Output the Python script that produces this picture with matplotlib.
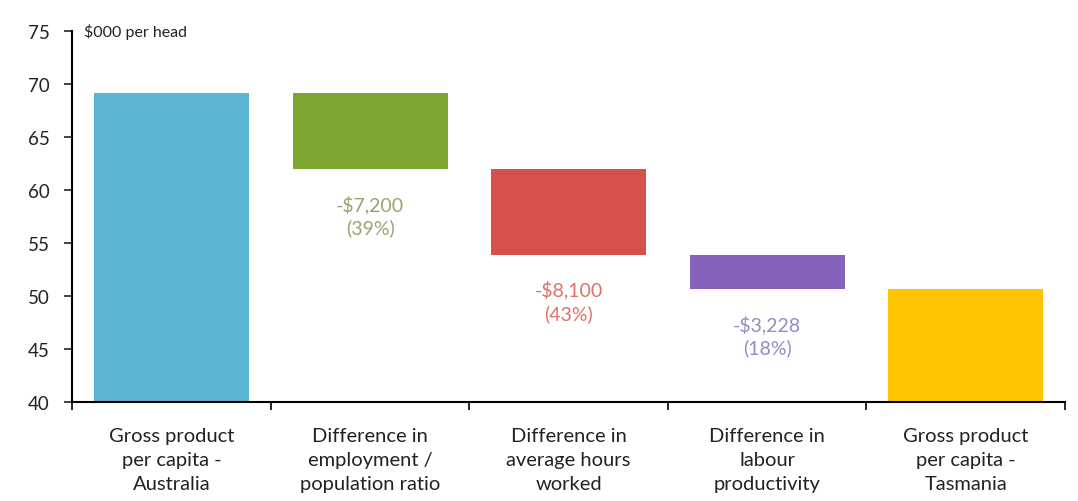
import matplotlib.pyplot as plt

# Data ($000 per head)
categories = [
    "Gross product\nper capita -\nAustralia",
    "Difference in\nemployment /\npopulation ratio",
    "Difference in\naverage hours\nworked",
    "Difference in\nlabour\nproductivity",
    "Gross product\nper capita -\nTasmania",
]
start_value = 69.2
changes = [-7.2, -8.1, -3.228]
change_labels = ["-$7,200\n(39%)", "-$8,100\n(43%)", "-$3,228\n(18%)"]
colors = ["#5ab4d2", "#7ba52e", "#d6504c", "#8562bc", "#ffc400"]
label_colors = ["#9aa36c", "#e0706a", "#9a88c8"]

plt.rcParams["font.family"] = ["Lato", "DejaVu Sans"]

fig = plt.figure(figsize=(10.78, 5.02), dpi=100)
ax = fig.add_axes([0.067, 0.197, 0.921, 0.739])

base = 40
x = list(range(len(categories)))

# first bar
ax.bar(x[0], start_value - base, bottom=base, width=0.78, color=colors[0])

# floating bars
level = start_value
for i, ch in enumerate(changes):
    new_level = level + ch
    ax.bar(x[i + 1], level - new_level, bottom=new_level, width=0.78,
           color=colors[i + 1])
    ax.text(x[i + 1], new_level - 2.4, change_labels[i], ha="center", va="top",
            fontsize=14, color=label_colors[i], linespacing=1.35)
    level = new_level

# final bar
ax.bar(x[-1], level - base, bottom=base, width=0.78, color=colors[-1])

ax.set_ylim(40, 75)
ax.set_yticks(range(40, 76, 5))
ax.set_xlim(-0.5, len(categories) - 0.5)
ax.set_xticks([i + 0.5 for i in range(-1, len(categories))], minor=False)
ax.set_xticklabels([])
ax.set_xticks(x, minor=True)
ax.set_xticklabels(categories, minor=True, fontsize=14.5, color="#222222",
                   linespacing=1.5)
ax.tick_params(axis="x", which="minor", length=0, pad=18)
ax.tick_params(axis="x", which="major", length=6, width=1.2, direction="out")
ax.tick_params(axis="y", length=6, width=1.2, labelsize=13.5, colors="#222222",
               pad=10)

for s in ["top", "right"]:
    ax.spines[s].set_visible(False)
ax.spines["left"].set_linewidth(1.5)
ax.spines["bottom"].set_linewidth(1.5)

ax.text(0.012, 75, "$000 per head", transform=ax.get_yaxis_transform(),
        fontsize=11.5, va="center", ha="left", color="#222222")

fig.savefig("out.png", dpi=100)
